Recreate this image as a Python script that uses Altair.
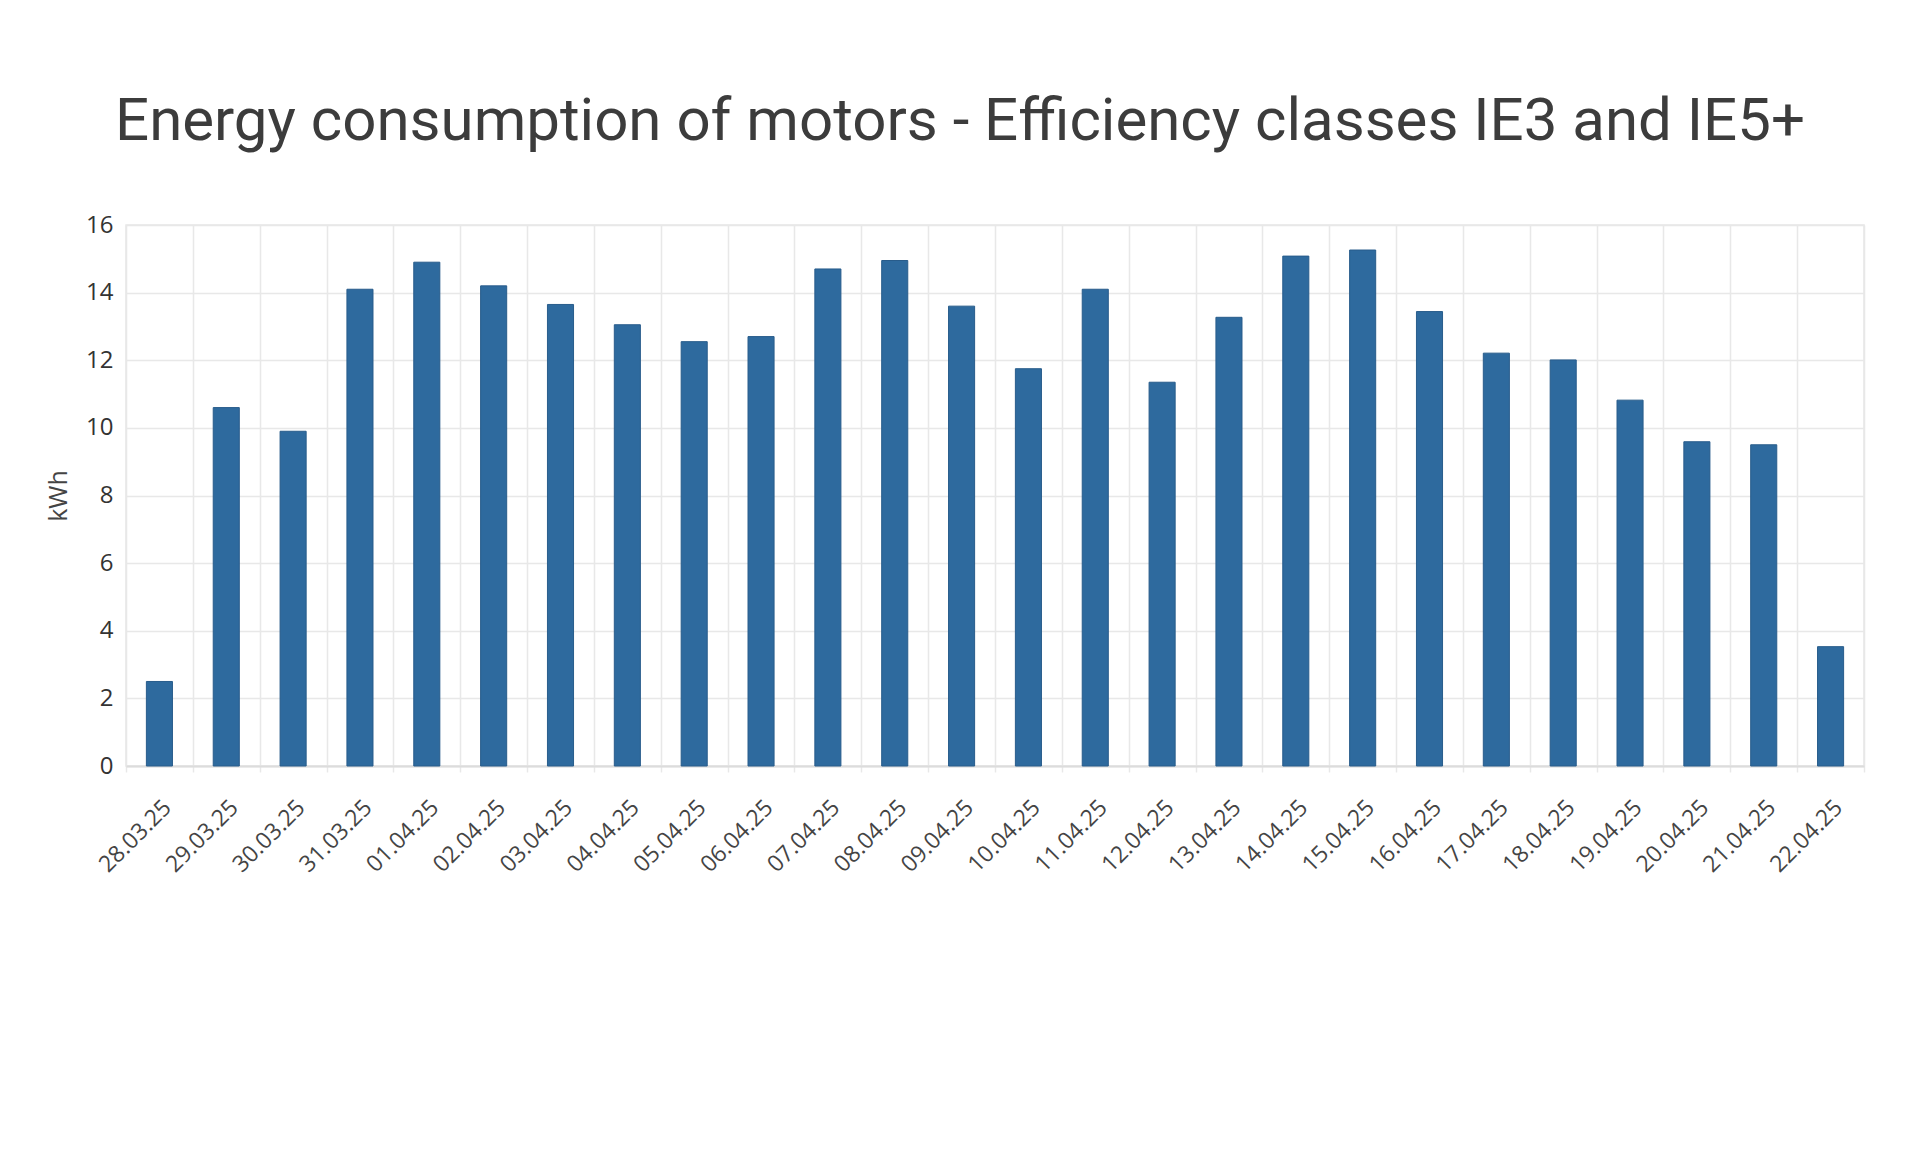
import altair as alt
import pandas as pd

dates = ["28.03.25", "29.03.25", "30.03.25", "31.03.25", "01.04.25", "02.04.25",
         "03.04.25", "04.04.25", "05.04.25", "06.04.25", "07.04.25", "08.04.25",
         "09.04.25", "10.04.25", "11.04.25", "12.04.25", "13.04.25", "14.04.25",
         "15.04.25", "16.04.25", "17.04.25", "18.04.25", "19.04.25", "20.04.25",
         "21.04.25", "22.04.25"]
kwh = [2.5, 10.6, 9.9, 14.1, 14.9, 14.2, 13.65, 13.05, 12.55, 12.7, 14.7, 14.95,
       13.6, 11.75, 14.1, 11.35, 13.27, 15.08, 15.26, 13.44, 12.21, 12.01, 10.82,
       9.59, 9.5, 3.53]
y_ticks = [0, 2, 4, 6, 8, 10, 12, 14, 16]

df = pd.DataFrame({"date": dates, "kwh": kwh})

grid_color = "#e8e8e8"

chart = alt.Chart(df).mark_bar(
    width=alt.RelativeBandSize(0.39),
    color="#2e6a9e",
    stroke="#285c8b",
    strokeWidth=1,
).encode(
    x=alt.X(
        "date:N",
        sort=dates,
        title=None,
        scale=alt.Scale(paddingInner=0, paddingOuter=0),
        axis=alt.Axis(
            labelAngle=-45,
            tickBand="extent",
            grid=True,
            gridColor=grid_color,
            gridWidth=1.5,
            tickColor=grid_color,
            tickSize=6,
            tickWidth=1.5,
            domainColor="#dcdcdc",
            domainWidth=2,
            labelFont="Open Sans",
            labelFontSize=23,
            labelColor="#444444",
            labelPadding=24,
        ),
    ),
    y=alt.Y(
        "kwh:Q",
        title="kWh",
        scale=alt.Scale(domain=[0, 16], nice=False),
        axis=alt.Axis(
            values=y_ticks,
            grid=True,
            gridColor=grid_color,
            gridWidth=1.5,
            ticks=False,
            domain=False,
            labelFont="Open Sans",
            labelFontSize=24,
            labelColor="#333333",
            labelPadding=13,
            titleFont="Open Sans",
            titleFontSize=25,
            titleFontWeight="normal",
            titleColor="#444444",
            titlePadding=14,
        ),
    ),
).properties(
    width=1738,
    height=541,
    title=alt.TitleParams(
        text="Energy consumption of motors - Efficiency classes IE3 and IE5+",
        font="Roboto",
        fontSize=60,
        fontWeight="normal",
        color="#3c3c3c",
        anchor="middle",
        frame="group",
        dx=-35,
        offset=60,
    ),
    autosize=alt.AutoSizeParams(type="none"),
    padding={"left": 118, "top": 217, "right": 48, "bottom": 378},
    background="white",
).configure_view(stroke=grid_color, strokeWidth=1.5)

chart.save("out.html", embed_options={"renderer": "svg", "actions": False})
